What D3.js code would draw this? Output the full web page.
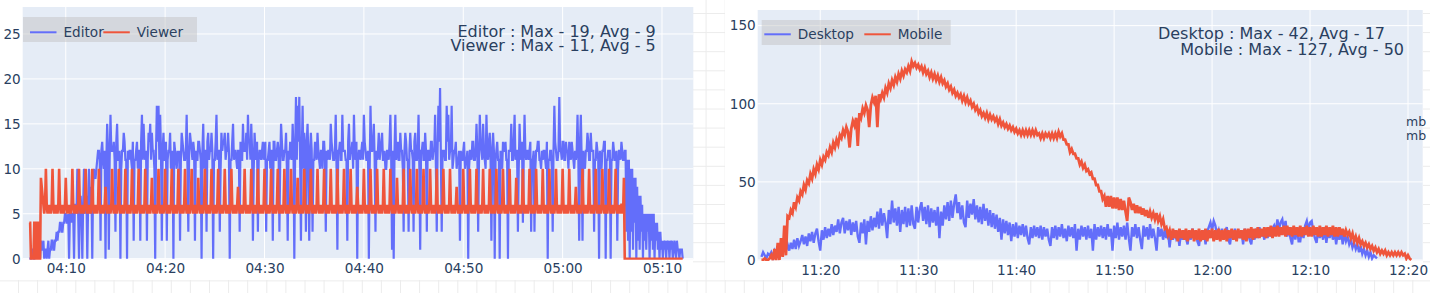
<!DOCTYPE html>
<html>
<head>
<meta charset="utf-8">
<script src="https://cdn.jsdelivr.net/npm/d3@7"></script>
<style>
  body { margin: 0; background: #fff; }
  svg { display: block; }
</style>
</head>
<body>
<div id="chart"></div>
<script>
// left panel: one sample every 5 seconds from 04:06:20
var leftStart = "04:06:20";
var leftStepSeconds = 5;
var editorValues = [
  0,0,0,1,1,0,0,1,1,1,0,1,1,0,2,1,1,2,0,1,
  1,0,1,2,0,1,1,2,2,1,1,2,2,3,2,3,3,4,4,3,
  3,4,4,5,5,4,4,5,0,5,5,4,5,5,0,6,6,5,10,5,
  0,6,7,5,0,6,10,5,6,7,0,6,10,7,5,8,0,8,10,9,
  9,10,11,12,12,11,2,12,13,11,10,12,0,11,15,12,1,11,16,12,
  12,12,13,11,3,13,15,11,11,12,0,10,12,12,14,13,11,11,0,12,
  11,12,12,11,10,13,2,11,11,12,13,10,12,12,2,13,16,11,15,12,
  11,12,2,11,14,13,15,11,14,12,12,10,0,12,17,13,17,11,16,12,
  2,12,14,11,11,13,2,11,12,12,14,10,11,12,0,13,12,11,10,12,
  11,12,2,11,14,13,12,11,11,12,16,10,3,12,14,13,12,11,13,12,
  2,12,11,11,13,13,12,11,0,12,15,10,12,12,3,13,14,11,12,12,
  14,12,0,11,11,13,16,11,12,12,3,10,14,12,13,13,14,11,12,12,
  14,12,0,11,11,13,15,11,12,12,11,10,12,12,3,13,11,11,15,12,
  12,12,14,11,16,13,13,11,15,12,2,10,14,12,11,13,3,11,12,12,
  11,12,13,11,12,13,3,11,11,12,13,10,12,12,2,13,13,11,11,12,
  13,12,3,11,15,13,11,11,12,12,14,10,2,12,11,13,12,11,15,12,
  0,12,18,11,17,13,18,11,2,12,17,10,14,12,3,13,15,11,2,12,
  14,12,3,11,11,13,12,11,14,12,11,10,12,12,10,13,13,11,3,12,
  11,12,12,11,15,13,12,11,11,12,16,10,1,12,12,13,11,11,16,12,
  12,12,11,11,2,13,15,11,12,12,13,10,16,12,11,13,0,11,12,12,
  11,12,13,11,16,13,12,11,11,12,0,10,17,12,12,13,15,11,3,12,
  11,12,14,11,12,13,14,11,11,12,10,10,12,12,11,13,16,11,1,12,
  0,12,16,11,12,13,11,11,14,12,12,10,3,12,14,13,11,11,3,12,
  14,12,12,11,3,13,14,11,11,12,16,10,1,12,12,13,11,11,14,12,
  3,12,12,11,11,13,13,11,12,12,16,10,3,12,17,13,19,11,3,12,
  12,12,11,11,17,13,16,11,12,12,17,10,11,12,12,13,10,11,11,12,
  2,12,11,11,12,13,10,11,11,12,0,10,12,12,11,13,13,11,11,12,
  15,12,3,11,16,13,12,11,15,12,11,10,16,12,11,13,14,11,2,12,
  14,12,0,11,12,13,11,11,0,12,11,10,13,12,12,13,11,11,0,12,
  12,12,15,11,11,13,16,11,12,12,3,10,15,12,11,13,4,11,16,12,
  11,12,12,11,12,13,3,11,11,12,3,10,12,12,13,13,11,11,10,12,
  11,12,12,11,10,13,0,11,11,12,12,10,3,12,17,13,12,11,11,12,
  18,12,12,11,13,13,11,11,13,12,12,10,13,12,11,13,12,11,10,12,
  11,12,16,11,2,13,16,11,2,12,11,10,12,12,14,13,11,11,14,12,
  12,12,3,11,11,13,12,11,0,12,11,10,12,12,13,13,0,11,11,12,
  12,12,0,11,11,13,12,11,11,12,2,10,12,12,11,13,12,11,11,12,
  12,3,11,2,11,0,10,3,10,1,9,4,9,0,8,2,7,1,7,3,
  6,0,5,2,5,1,5,3,5,0,5,2,5,1,5,0,4,2,4,1,
  3,0,3,1,2,0,2,1,2,0,2,1,2,0,2,1,2,0,1,2,
  1,0,2,1,1,0,1,1,1,0
];
var viewerValues = [
  4,4,0,0,0,0,4,4,0,0,4,4,0,0,9,8,7,6,5,6,
  10,6,5,6,5,6,5,6, 10,6,5,6,5,6,5,6, 10,6,5,6,5,6,5,6, 9,6,5,6,5,6,5,6,
  10,6,5,6,5,6,5,6, 10,6,5,6,5,6,5,6, 10,6,5,6,5,6,5,6, 10,6,5,6,5,6,5,6,
  10,6,5,6,5,6,5,6, 8,6,5,6,5,6,5,6, 10,6,5,6,5,6,5,6, 10,6,5,6,5,6,5,6,
  10,6,5,6,5,6,5,6, 10,6,5,6,5,6,5,6, 10,6,5,6,5,6,5,6, 10,6,5,6,5,6,5,6,
  9,6,5,6,5,6,5,6, 10,6,5,6,5,6,5,6, 10,6,5,6,5,6,5,6, 10,6,5,6,5,6,5,6,
  10,6,5,6,5,6,5,6, 10,6,5,6,5,6,5,6, 10,6,5,6,5,6,5,6, 9,6,5,6,5,6,5,6,
  10,6,5,6,5,6,5,6, 10,6,5,6,5,6,5,6, 10,6,5,6,5,6,5,6, 10,6,5,6,5,6,5,6,
  10,6,5,6,5,6,5,6, 8,6,5,6,5,6,5,6, 10,6,5,6,5,6,5,6, 10,6,5,6,5,6,5,6,
  10,6,5,6,5,6,5,6, 10,6,5,6,5,6,5,6, 10,6,5,6,5,6,5,6, 10,6,5,6,5,6,5,6,
  10,6,5,6,5,6,5,6, 10,6,5,6,5,6,5,6, 9,6,5,6,5,6,5,6, 10,6,5,6,5,6,5,6,
  10,6,5,6,5,6,5,6, 10,6,5,6,5,6,5,6, 10,6,5,6,5,6,5,6, 10,6,5,6,5,6,5,6,
  10,6,5,6,5,6,5,6, 10,6,5,6,5,6,5,6, 10,6,5,6,5,6,5,6, 8,6,5,6,5,6,5,6,
  10,6,5,6,5,6,5,6, 10,6,5,6,5,6,5,6, 10,6,5,6,5,6,5,6, 10,6,5,6,5,6,5,6,
  10,6,5,6,5,6,5,6, 9,6,5,6,5,6,5,6, 10,6,5,6,5,6,5,6, 10,6,5,6,5,6,5,6,
  10,6,5,6,5,6,5,6, 10,6,5,6,5,6,5,6, 10,6,5,6,5,6,5,6, 10,6,5,6,5,6,5,6,
  10,6,5,6,5,6,5,6, 10,6,5,6,5,6,5,6, 8,6,5,6,5,6,5,6, 10,6,5,6,5,6,5,6,
  10,6,5,6,5,6,5,6, 10,6,5,6,5,6,5,6, 10,6,5,6,5,6,5,6, 10,6,5,6,5,6,5,6,
  10,6,5,6,5,6,5,6, 10,6,5,6,5,6,5,6, 10,6,5,6,5,6,5,6, 9,6,5,6,5,6,5,6,
  10,6,5,6,5,6,5,6, 10,6,5,6,5,6,5,6, 10,6,5,6,5,6,5,6, 10,6,5,6,5,6,5,6,
  10,6,5,6,5,6,5,6, 10,6,5,6,5,6,5,6, 10,6,5,6,5,6,5,6, 10,6,5,6,5,6,5,6,
  8,6,5,6,5,6,5,6, 10,6,5,6,5,6,5,6, 10,6,5,6,5,6,5,6, 10,6,5,6,5,6,5,6,
  10,6,5,6,5,6,5,6, 10,6,5,6,5,6,5,6, 10,6,5,6,5,6,5,6,
  6,5,9,
  0,0,0,0,0,0,0,0,0,0, 0,0,0,0,0,0,0,0,0,0, 0,0,0,0,0,0,0,0,0,0, 0,0,0,0,0,0,0,0,0,0,
  0,0,0,0,0,0,0,0,0,0, 0,0,0,0,0,0,0,0,0,0, 0,0,0,0,0,0,0,0,0,0, 0
];

// right panel: one sample every 10 seconds from 11:14:00
var rightStart = "11:14:00";
var rightStepSeconds = 10;
var desktopValues = [
  2,5,3,1,4,3,5,2,6,4, 7,4,8,5,9,6,10,6,11,7, 13,7,14,9,12,16,10,15,9,17, 12,18,11,17,20,12,6,19,13,21,
  14,20,15,23,16,22,18,26,17,24, 27,17,25,19,26,16,24,18,25,15, 11,24,17,26,10,25,18,28,19,27, 21,31,20,33,22,30,24,14,32,23,
  38,24,33,22,34,18,32,23,34,21, 33,22,35,23,20,34,24,33,37,25, 34,23,35,21,33,24,32,22,34,14, 31,22,35,26,37,25,38,27,36,42,
  30,37,26,35,24,21,38,27,36,29, 39,26,35,24,34,23,36,25,33,22, 32,21,30,20,29,18,27,13,26,17, 25,16,24,12,23,15,24,14,22,16,
  23,15,22,14,10,21,14,22,15,21, 14,22,13,21,15,20,13,9,21,14, 22,13,21,15,23,14,20,12,22,15, 21,14,23,6,20,13,22,15,21,13,
  22,14,20,6,23,13,21,15,22,14, 21,13,23,15,20,6,22,14,24,13, 21,15,22,13,24,14,6,21,15,23, 14,21,13,7,22,15,21,13,23,14,
  20,14,6,21,15,20,13,19,14,18, 8,18,13,19,14,17,9,18,13,19, 14,10,18,13,20,14,19,12,9,18, 13,19,10,18,21,24,19,25,22,16,
  19,13,20,14,18,21,13,10,19,14, 20,13,18,14,19,10,20,14,18,13, 10,19,13,20,14,21,15,19,13,20, 14,21,15,20,22,18,26,20,24,26,
  19,25,15,21,14,10,20,13,21,12, 12,20,14,22,25,19,24,25,18,14, 11,20,14,19,13,21,11,19,14,20, 13,19,10,18,13,19,10,17,12,15,
  10,13,8,11,7,10,5,9,4,7, 3,6,2,5,1,3,2,1
];
var mobileValues = [
  0,0,1,0,0,1,3,0,7,0, 11,0,14,2,22,3,28,27,32,30, 37,34,40,38,44,42,48,45,51,49, 55,52,58,55,61,58,64,61,66,64,
  69,67,72,69,75,72,77,74,80,78, 83,80,85,82,72,84,89,86,91,73, 94,91,97,94,99,96,85,99,104,101, 105,85,106,103,107,104,110,107,113,110,
  115,112,117,114,119,116,121,118,122,120, 124,121,127,124,126,123,125,122,124,120, 123,119,121,117,120,116,119,115,118,114, 117,113,115,111,113,109,111,107,109,105,
  107,104,106,102,105,101,104,100,102,98, 100,96,98,94,96,92,94,91,94,90, 93,90,92,89,91,87,90,86,88,85, 87,84,86,83,85,82,84,81,83,80,
  83,80,83,80,83,80,83,80,83,80, 81,78,81,78,81,79,81,78,81,78, 81,78,82,79,81,77,77,74,74,69, 71,68,68,65,65,61,63,59,61,57,
  58,55,56,52,52,48,48,44,44,39, 41,34,41,34,41,33,40,33,40,32, 39,32,38,31,25,40,37,32,36,30, 35,30,34,29,33,28,32,27,31,27,
  30,26,30,25,28,23,26,20,21,16, 19,13,20,14,19,12,20,14,19,13, 20,12,19,14,20,12,19,13,20,12, 19,13,20,12,19,14,20,12,19,13,
  20,12,19,13,20,12,19,14,20,13, 19,12,20,14,19,13,20,12,20,14, 21,13,20,14,21,14,20,15,21,14, 21,15,22,14,21,15,22,15,21,16,
  22,15,22,16,21,15,22,16,21,15, 22,15,21,16,22,15,21,15,22,16, 21,15,22,15,21,16,22,15,21,16, 22,15,21,15,21,16,20,15,19,16,
  18,14,17,12,15,11,14,10,12,9, 11,8,10,7,9,6,8,5,7,4, 6,4,6,3,5,3,5,3,5,3, 5,3,5,3,4,1,3,1,0
];

var leftXTicks = ["04:10:00", "04:20:00", "04:30:00", "04:40:00", "04:50:00", "05:00:00", "05:10:00"];
var leftYTicks = [0, 5, 10, 15, 20, 25];
var rightXTicks = ["11:20:00", "11:30:00", "11:40:00", "11:50:00", "12:00:00", "12:10:00", "12:20:00"];
var rightYTicks = [0, 50, 100, 150];

var leftNames = ["Editor", "Viewer"];
var rightNames = ["Desktop", "Mobile"];
var leftNotes = ["Editor : Max - 19, Avg - 9", "Viewer : Max - 11, Avg - 5"];
var rightNotes = ["Desktop : Max - 42, Avg - 17", "Mobile : Max - 127, Avg - 50"];
var unitLabels = ["mb", "mb"];

var colors = ["#636efa", "#EF553B"];
var FONT = '"DejaVu Sans", Verdana, sans-serif';
var TEXT = "#2a3f5f";

var svgWidth = 1430;
var svgHeight = 293;
var parseTime = d3.timeParse("%H:%M:%S");

var svg = d3.select("#chart")
  .append("svg")
  .attr("width", svgWidth)
  .attr("height", svgHeight);

// faint page grid that shows round the two charts
var pageGrid = svg.append("g").attr("stroke", "#ececec").attr("stroke-width", 1);
pageGrid.selectAll(".hz").data(d3.range(13.5, svgHeight, 19.1)).enter().append("line")
  .attr("x1", 0).attr("x2", svgWidth).attr("y1", d => d).attr("y2", d => d);
pageGrid.selectAll(".vt").data(d3.range(18.5, svgWidth, 19.1)).enter().append("line")
  .attr("y1", 0).attr("y2", svgHeight).attr("x1", d => d).attr("x2", d => d);

// white chart papers
svg.append("rect").attr("x", 0).attr("y", 0).attr("width", 693).attr("height", 280).attr("fill", "#fff");
svg.append("rect").attr("x", 725).attr("y", 0).attr("width", 698).attr("height", 280).attr("fill", "#fff");

function drawPanel(p) {
  var x = d3.scaleTime().domain(p.xDomain.map(parseTime)).range([p.left, p.right]);
  var y = d3.scaleLinear().domain(p.yDomain).range([p.bottom, p.top]);
  var g = svg.append("g");

  g.append("rect")
    .attr("x", p.left).attr("y", p.top)
    .attr("width", p.right - p.left).attr("height", p.bottom - p.top + 0.5)
    .attr("fill", "#e5ecf6");

  // gridlines
  g.append("g").selectAll("line").data(p.xTicks.map(parseTime)).enter().append("line")
    .attr("x1", d => x(d)).attr("x2", d => x(d))
    .attr("y1", p.top).attr("y2", p.bottom)
    .attr("stroke", "#fff").attr("stroke-width", 1);
  g.append("g").selectAll("line").data(p.yTicks).enter().append("line")
    .attr("x1", p.left).attr("x2", p.right)
    .attr("y1", d => y(d)).attr("y2", d => y(d))
    .attr("stroke", "#fff").attr("stroke-width", 1);

  // axes
  var xAxis = g.append("g")
    .attr("transform", `translate(0, ${p.bottom})`)
    .call(d3.axisBottom(x).tickValues(p.xTicks.map(parseTime)).tickFormat(d3.timeFormat("%H:%M")).tickSize(0).tickPadding(p.xPad));
  var yAxis = g.append("g")
    .attr("transform", `translate(${p.left}, 0)`)
    .call(d3.axisLeft(y).tickValues(p.yTicks).tickSize(0).tickPadding(2));
  [xAxis, yAxis].forEach(function(a) {
    a.select(".domain").remove();
    a.selectAll("text")
      .style("font-family", FONT)
      .style("font-size", "13.6px")
      .attr("fill", TEXT);
  });

  // series
  var clipId = "clip-" + p.id;
  svg.append("clipPath").attr("id", clipId).append("rect")
    .attr("x", p.left).attr("y", p.top)
    .attr("width", p.right - p.left).attr("height", p.bottom - p.top + 1);

  var line = d3.line().x(d => x(d.t)).y(d => y(d.v));
  var start = parseTime(p.start);
  p.series.forEach(function(s, k) {
    var pts = s.map((v, i) => ({ t: d3.timeSecond.offset(start, i * p.step), v: v }));
    g.append("path")
      .datum(pts)
      .attr("clip-path", `url(#${clipId})`)
      .attr("fill", "none")
      .attr("stroke", colors[k])
      .attr("stroke-width", p.widths[k])
      .attr("d", line);
  });

  // legend
  var lg = p.legend;
  g.append("rect")
    .attr("x", lg.x).attr("y", lg.y).attr("width", lg.w).attr("height", lg.h)
    .attr("fill", "rgba(190,190,190,0.45)");
  p.names.forEach(function(name, k) {
    g.append("line")
      .attr("x1", lg.items[k]).attr("x2", lg.items[k] + 26.5)
      .attr("y1", lg.cy).attr("y2", lg.cy)
      .attr("stroke", colors[k]).attr("stroke-width", 2);
    g.append("text")
      .attr("x", lg.items[k] + 33.5).attr("y", lg.cy + 4.9)
      .style("font-family", FONT).style("font-size", "13.6px")
      .attr("fill", TEXT)
      .text(name);
  });

  // max / avg notes
  p.notes.forEach(function(note, k) {
    g.append("text")
      .attr("x", p.noteX[k]).attr("y", p.noteY[k])
      .attr("text-anchor", "end")
      .style("font-family", FONT).style("font-size", "16px")
      .attr("fill", TEXT)
      .text(note);
  });
}

drawPanel({
  id: "left",
  left: 22.7, right: 693.3, top: 7, bottom: 258.7,
  xDomain: ["04:05:40", "05:13:09"], yDomain: [0, 28],
  xTicks: leftXTicks, yTicks: leftYTicks, xPad: 4.5,
  start: leftStart, step: leftStepSeconds, series: [editorValues, viewerValues],
  widths: [2.2, 2.6],
  names: leftNames,
  legend: { x: 23, y: 17, w: 174, h: 25, cy: 32.3, items: [30, 103.3] },
  notes: leftNotes, noteX: [655.7, 655.7], noteY: [36.9, 51.1]
});

drawPanel({
  id: "right",
  left: 757.7, right: 1422.7, top: 10, bottom: 260,
  xDomain: ["11:13:37", "12:21:30"], yDomain: [0, 160],
  xTicks: rightXTicks, yTicks: rightYTicks, xPad: 5.3,
  start: rightStart, step: rightStepSeconds, series: [desktopValues, mobileValues],
  widths: [2.4, 2.8],
  names: rightNames,
  legend: { x: 761.7, y: 20, w: 189, h: 25, cy: 34.3, items: [764.3, 864.3] },
  notes: rightNotes, noteX: [1385, 1404], noteY: [39.4, 54.6]
});

// unit labels hanging off the right edge
svg.selectAll(".unit").data(unitLabels).enter().append("text")
  .attr("x", 1406).attr("y", (d, i) => 126 + i * 14)
  .style("font-family", FONT).style("font-size", "12.5px")
  .attr("fill", TEXT)
  .text(d => d);
</script>
</body>
</html>
